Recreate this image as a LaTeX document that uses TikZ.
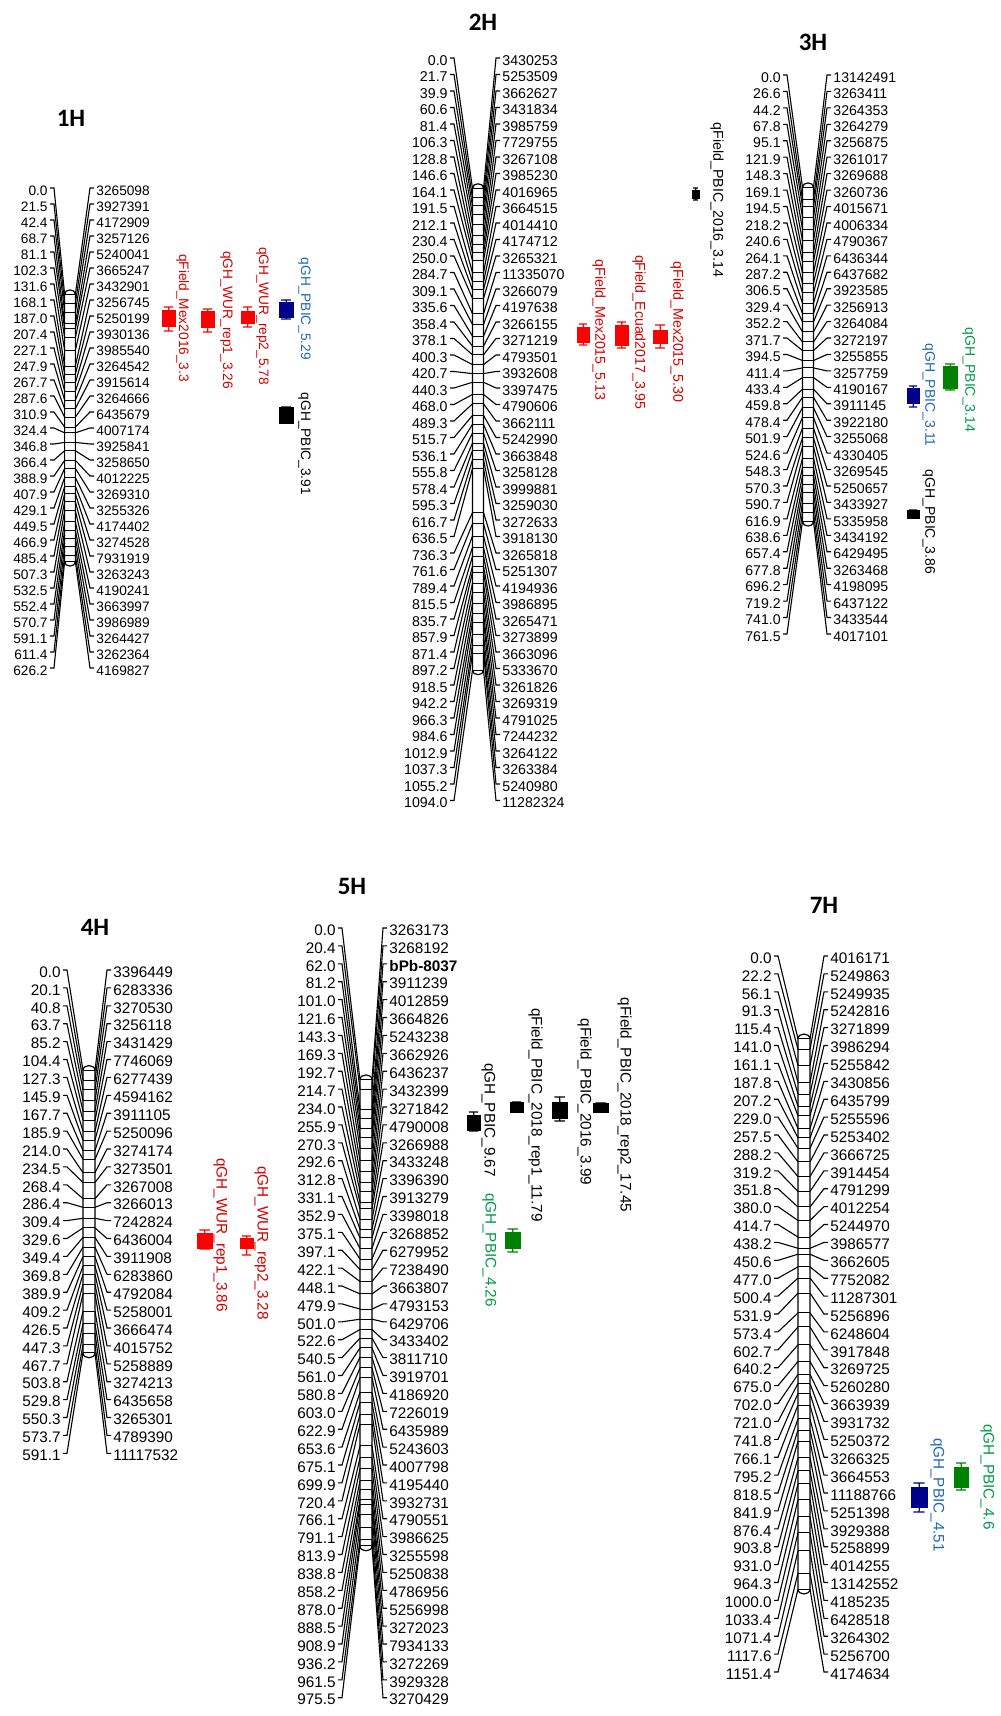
\documentclass[tikz,border=0pt]{standalone}
\usepackage{fontspec}
\setmainfont{Liberation Sans}
\newfontfamily\titlefont{Carlito}
\definecolor{qred}{RGB}{255,0,0}
\definecolor{qredt}{RGB}{215,0,0}
\definecolor{qblue}{RGB}{0,0,139}
\definecolor{qbluet}{RGB}{31,105,180}
\definecolor{qgreen}{RGB}{0,128,0}
\definecolor{qgreent}{RGB}{0,155,70}
\tikzset{
  mlab/.style={inner sep=0pt, text height=0.72em, text depth=0pt},
  fan/.style={line width=0.55pt, black},
  chrbar/.style={line width=0.6pt, black, fill=white},
  ctick/.style={line width=0.5pt, black},
  ttl/.style={inner sep=0pt, font={\titlefont\bfseries\fontsize{12.5}{12.5}\selectfont}},
  qlabel/.style={inner sep=0pt, rotate=-90, anchor=south},
}
% chromosome drawing: parameters in \cbx \cyz \cd \cxl \cxr \cfs \cL \cn
\newcommand\drawchrom[2]{%
  \pgfmathsetmacro\ccy{\cyz+(\cn-1)*\cd/2}%
  \pgfmathsetmacro\cs{0.0267*\cd}%
  \pgfmathsetmacro\cw{6*\cd/17.9}%
  \pgfmathsetmacro\ch{0.8*\cw}%
  \pgfmathsetmacro\ctop{\ccy-\cL*\cs/2}%
  \pgfmathsetmacro\cbot{\ccy+\cL*\cs/2}%
  \draw[chrbar] (\cbx-\cw,\ctop) -- (\cbx-\cw,\cbot)
     .. controls (\cbx-\cw,\cbot+1.33*\ch) and (\cbx+\cw,\cbot+1.33*\ch) .. (\cbx+\cw,\cbot)
     -- (\cbx+\cw,\ctop)
     .. controls (\cbx+\cw,\ctop-1.33*\ch) and (\cbx-\cw,\ctop-1.33*\ch) .. (\cbx-\cw,\ctop) -- cycle;
  \foreach \p/\n [count=\i from 0] in {#2} {
    \pgfmathsetmacro\yl{\cyz+\i*\cd}
    \pgfmathsetmacro\ym{\ccy+(\p-\cL/2)*\cs}
    \coordinate (#1bl\i) at (\cbx-\cw,\ym);
    \coordinate (#1br\i) at (\cbx+\cw,\ym);
    \node[mlab,anchor=east,font=\fontsize{\cfs}{\cfs}\selectfont] (#1l\i) at (\cxl,\yl) {\p};
    \node[mlab,anchor=west,font=\fontsize{\cfs}{\cfs}\selectfont] (#1r\i) at (\cxr,\yl) {\n};
    \draw[ctick] (#1bl\i) -- (#1br\i);
    \draw[fan] ([xshift=1pt]#1l\i.east) -- ++(4,0) -- (#1bl\i);
    \draw[fan] ([xshift=-1pt]#1r\i.west) -- ++(-4,0) -- (#1br\i);
  }
}
% QTL box: id, xleft, xright, whisker top, box top, box bottom, whisker bottom, colour
\newcommand\qbox[8]{%
  \pgfmathsetmacro\qxc{(#2+#3)/2}%
  \pgfmathsetmacro\qcw{0.35*(#3-#2)}%
  \pgfmathsetmacro\qbw{(#3-#2)/2}%
  \pgfmathsetmacro\qbh{(#6-#5)/2}%
  \node[draw=#8, fill=#8, line width=0.4pt, inner sep=0pt, minimum width=\qbw pt, minimum height=\qbh pt, anchor=north west] (#1) at (#2,#5) {};
  \draw[#8, line width=0.6pt] (#1.north) -- (\qxc,#4) (#1.south) -- (\qxc,#7)
     (\qxc-\qcw,#4) -- (\qxc+\qcw,#4) (\qxc-\qcw,#7) -- (\qxc+\qcw,#7);
}
% QTL label: id, x (left edge), y centre, colour, font size, text
\newcommand\qlab[6]{%
  \node[qlabel, text=#4, font=\fontsize{#5}{#5}\selectfont] (#1) at (#2,#3) {#6};
}
\begin{document}
\begin{tikzpicture}[x=0.5pt,y=-0.5pt]
\useasboundingbox (0,0) rectangle (1000,1716);

% ---------------- 1H
\node[ttl] (t1) at (71,118) {1H};
\def\cbx{70}\def\cyz{188}\def\cd{16.0}\def\cxl{48}\def\cxr{96}\def\cfs{6.85}\def\cL{626.2}\def\cn{31}
\drawchrom{ca}{0.0/3265098, 21.5/3927391, 42.4/4172909, 68.7/3257126, 81.1/5240041, 102.3/3665247, 131.6/3432901, 168.1/3256745, 187.0/5250199, 207.4/3930136, 227.1/3985540, 247.9/3264542, 267.7/3915614, 287.6/3264666, 310.9/6435679, 324.4/4007174, 346.8/3925841, 366.4/3258650, 388.9/4012225, 407.9/3269310, 429.1/3255326, 449.5/4174402, 466.9/3274528, 485.4/7931919, 507.3/3263243, 532.5/4190241, 552.4/3663997, 570.7/3986989, 591.1/3264427, 611.4/3262364, 626.2/4169827}

\qbox{q1a}{162}{175}{307}{310}{326}{331}{qred}
\qlab{q1at}{176}{318}{qredt}{6.85}{qField\_Mex2016\_3.3}
\qbox{q1b}{201}{214}{309}{311}{327}{332}{qred}
\qlab{q1bt}{220}{320}{qredt}{6.85}{qGH\_WUR\_rep1\_3.26}
\qbox{q1c}{241}{254}{307}{311}{323}{327}{qred}
\qlab{q1ct}{256}{316}{qredt}{6.85}{qGH\_WUR\_rep2\_5.78}
\qbox{q1d}{279}{293}{300}{302}{317}{319}{qblue}
\qlab{q1dt}{298}{309}{qbluet}{6.85}{qGH\_PBIC\_5.29}
\qbox{q1e}{279}{293}{407}{407}{423}{423}{black}
\qlab{q1et}{298}{444}{black}{6.85}{qGH\_PBIC\_3.91}

% ---------------- 2H
\node[ttl] (t2) at (483,22) {2H};
\def\cbx{478}\def\cyz{58}\def\cd{16.5}\def\cxl{448}\def\cxr{502}\def\cfs{7.1}\def\cL{1094.0}\def\cn{46}
\drawchrom{cb}{0.0/3430253, 21.7/5253509, 39.9/3662627, 60.6/3431834, 81.4/3985759, 106.3/7729755, 128.8/3267108, 146.6/3985230, 164.1/4016965, 191.5/3664515, 212.1/4014410, 230.4/4174712, 250.0/3265321, 284.7/11335070, 309.1/3266079, 335.6/4197638, 358.4/3266155, 378.1/3271219, 400.3/4793501, 420.7/3932608, 440.3/3397475, 468.0/4790606, 489.3/3662111, 515.7/5242990, 536.1/3663848, 555.8/3258128, 578.4/3999881, 595.3/3259030, 616.7/3272633, 636.5/3918130, 736.3/3265818, 761.6/5251307, 789.4/4194936, 815.5/3986895, 835.7/3265471, 857.9/3273899, 871.4/3663096, 897.2/5333670, 918.5/3261826, 942.2/3269319, 966.3/4791025, 984.6/7244232, 1012.9/3264122, 1037.3/3263384, 1055.2/5240980, 1094.0/11282324}

\qbox{q2a}{692}{699}{188}{190}{198}{200}{black}
\qlab{q2at}{710}{200}{black}{7.1}{qField\_PBIC\_2016\_3.14}
\qbox{q2b}{577}{589}{324}{327}{342}{345}{qred}
\qlab{q2bt}{592}{330}{qredt}{7.1}{qField\_Mex2015\_5.13}
\qbox{q2c}{615}{628}{322}{325}{345}{348}{qred}
\qlab{q2ct}{632}{332}{qredt}{7.1}{qField\_Ecuad2017\_3.95}
\qbox{q2d}{653}{667}{325}{330}{343}{348}{qred}
\qlab{q2dt}{670}{332}{qredt}{7.1}{qField\_Mex2015\_5.30}

% ---------------- 3H
\node[ttl] (t3) at (813,42) {3H};
\def\cbx{808}\def\cyz{75}\def\cd{16.44}\def\cxl{781}\def\cxr{833}\def\cfs{7.05}\def\cL{761.5}\def\cn{35}
\drawchrom{cc}{0.0/13142491, 26.6/3263411, 44.2/3264353, 67.8/3264279, 95.1/3256875, 121.9/3261017, 148.3/3269688, 169.1/3260736, 194.5/4015671, 218.2/4006334, 240.6/4790367, 264.1/6436344, 287.2/6437682, 306.5/3923585, 329.4/3256913, 352.2/3264084, 371.7/3272197, 394.5/3255855, 411.4/3257759, 433.4/4190167, 459.8/3911145, 478.4/3922180, 501.9/3255068, 524.6/4330405, 548.3/3269545, 570.3/5250657, 590.7/3433927, 616.9/5335958, 638.6/3434192, 657.4/6429495, 677.8/3263468, 696.2/4198095, 719.2/6437122, 741.0/3433544, 761.5/4017101}

\qbox{q3a}{907}{919}{386}{388}{403}{407}{qblue}
\qlab{q3at}{922}{395}{qbluet}{7.0}{qGH\_PBIC\_3.11}
\qbox{q3b}{943}{957}{364}{366}{388}{390}{qgreen}
\qlab{q3bt}{962}{380}{qgreent}{7.0}{qGH\_PBIC\_3.14}
\qbox{q3c}{907}{919}{510}{510}{518}{518}{black}
\qlab{q3ct}{922}{522}{black}{7.0}{qGH\_PBIC\_3.86}

% ---------------- 4H
\node[ttl] (t4) at (95,927) {4H};
\def\cbx{89}\def\cyz{970}\def\cd{17.9}\def\cxl{61}\def\cxr{113}\def\cfs{7.65}\def\cL{591.1}\def\cn{28}
\drawchrom{cd}{0.0/3396449, 20.1/6283336, 40.8/3270530, 63.7/3256118, 85.2/3431429, 104.4/7746069, 127.3/6277439, 145.9/4594162, 167.7/3911105, 185.9/5250096, 214.0/3274174, 234.5/3273501, 268.4/3267008, 286.4/3266013, 309.4/7242824, 329.6/6436004, 349.4/3911908, 369.8/6283860, 389.9/4792084, 409.2/5258001, 426.5/3666474, 447.3/4015752, 467.7/5258889, 503.8/3274213, 529.8/6435658, 550.3/3265301, 573.7/4789390, 591.1/11117532}

\qbox{q4a}{197}{212}{1230}{1233}{1248}{1249}{qred}
\qlab{q4at}{213}{1235}{qredt}{7.65}{qGH\_WUR\_rep1\_3.86}
\qbox{q4b}{240}{253}{1236}{1238}{1248}{1255}{qred}
\qlab{q4bt}{254}{1243}{qredt}{7.65}{qGH\_WUR\_rep2\_3.28}

% ---------------- 5H
\node[ttl] (t5) at (352,886) {5H};
\def\cbx{366}\def\cyz{928}\def\cd{17.9}\def\cxl{336}\def\cxr{389}\def\cfs{7.65}\def\cL{975.5}\def\cn{44}
\drawchrom{ce}{0.0/3263173, 20.4/3268192, 62.0/{\textbf{bPb-8037}}, 81.2/3911239, 101.0/4012859, 121.6/3664826, 143.3/5243238, 169.3/3662926, 192.7/6436237, 214.7/3432399, 234.0/3271842, 255.9/4790008, 270.3/3266988, 292.6/3433248, 312.8/3396390, 331.1/3913279, 352.9/3398018, 375.1/3268852, 397.1/6279952, 422.1/7238490, 448.1/3663807, 479.9/4793153, 501.0/6429706, 522.6/3433402, 540.5/3811710, 561.0/3919701, 580.8/4186920, 603.0/7226019, 622.9/6435989, 653.6/5243603, 675.1/4007798, 699.9/4195440, 720.4/3932731, 766.1/4790551, 791.1/3986625, 813.9/3255598, 838.8/5250838, 858.2/4786956, 878.0/5256998, 888.5/3272023, 908.9/7934133, 936.2/3272269, 961.5/3929328, 975.5/3270429}

\qbox{q5a}{467}{480}{1112}{1115}{1130}{1131}{black}
\qlab{q5at}{481}{1120}{black}{7.65}{qGH\_PBIC\_9.67}
\qbox{q5b}{505}{520}{1229}{1232}{1248}{1252}{qgreen}
\qlab{q5bt}{482}{1250}{qgreent}{7.65}{qGH\_PBIC\_4.26}
\qbox{q5c}{510}{523}{1102}{1102}{1112}{1112}{black}
\qlab{q5ct}{528}{1115}{black}{7.65}{qField\_PBIC\_2018\_rep1\_11.79}
\qbox{q5d}{552}{567}{1097}{1102}{1118}{1121}{black}
\qlab{q5dt}{577}{1102}{black}{7.65}{qField\_PBIC\_2016\_3.99}
\qbox{q5e}{593}{608}{1103}{1103}{1112}{1112}{black}
\qlab{q5et}{617}{1105}{black}{7.65}{qField\_PBIC\_2018\_rep2\_17.45}

% ---------------- 7H
\node[ttl] (t7) at (824,905) {7H};
\def\cbx{804}\def\cyz{956}\def\cd{17.9}\def\cxl{772}\def\cxr{830}\def\cfs{7.65}\def\cL{1151.4}\def\cn{41}
\drawchrom{cf}{0.0/4016171, 22.2/5249863, 56.1/5249935, 91.3/5242816, 115.4/3271899, 141.0/3986294, 161.1/5255842, 187.8/3430856, 207.2/6435799, 229.0/5255596, 257.5/5253402, 288.2/3666725, 319.2/3914454, 351.8/4791299, 380.0/4012254, 414.7/5244970, 438.2/3986577, 450.6/3662605, 477.0/7752082, 500.4/11287301, 531.9/5256896, 573.4/6248604, 602.7/3917848, 640.2/3269725, 675.0/5260280, 702.0/3663939, 721.0/3931732, 741.8/5250372, 766.1/3266325, 795.2/3664553, 818.5/11188766, 841.9/5251398, 876.4/3929388, 903.8/5258899, 931.0/4014255, 964.3/13142552, 1000.0/4185235, 1033.4/6428518, 1071.4/3264302, 1117.6/5256700, 1151.4/4174634}

\qbox{q7a}{911}{927}{1483}{1487}{1507}{1512}{qblue}
\qlab{q7at}{930}{1495}{qbluet}{7.65}{qGH\_PBIC\_4.51}
\qbox{q7b}{954}{968}{1463}{1467}{1487}{1490}{qgreen}
\qlab{q7bt}{980}{1477}{qgreent}{7.65}{qGH\_PBIC\_4.6}
\end{tikzpicture}
\end{document}
